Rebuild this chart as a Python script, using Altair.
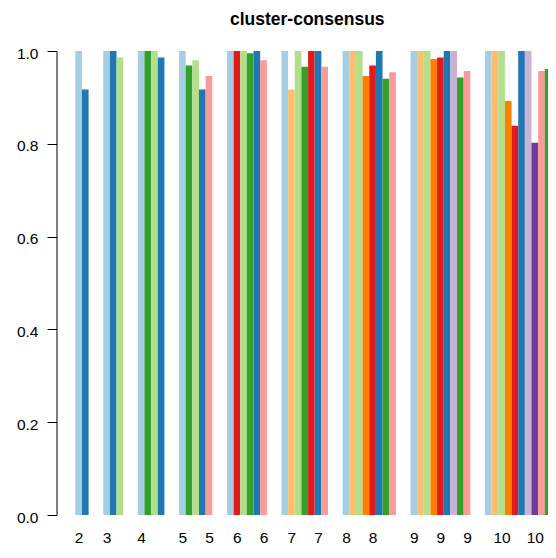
import altair as alt
import pandas as pd

# cluster counts (k) and, for each k, bar colours and cluster-consensus values
K = [2, 3, 4, 5, 6, 7, 8, 9, 10]

LB, DB, LG, G = "#A6CEE3", "#1F78B4", "#B2DF8A", "#33A02C"
PK, R, LO, O = "#FB9A99", "#E31A1C", "#FDBF6F", "#FF7F00"
LV, PU = "#CAB2D6", "#6A3D9A"

colors = [
    [LB, DB],
    [LB, DB, LG],
    [LB, G, LG, DB],
    [LB, G, LG, DB, PK],
    [LB, R, LG, G, DB, PK],
    [LB, LO, LG, G, R, DB, PK],
    [LB, LO, LG, O, R, DB, G, PK],
    [LB, LO, LG, O, R, DB, LV, G, PK],
    [LB, LO, LG, O, R, DB, LV, PU, PK, G],
]
values = [
    [1.0, 0.917],
    [1.0, 1.0, 0.986],
    [1.0, 1.0, 1.0, 0.986],
    [1.0, 0.969, 0.980, 0.917, 0.946],
    [1.0, 1.0, 1.0, 0.995, 1.0, 0.980],
    [1.0, 0.917, 1.0, 0.966, 1.0, 1.0, 0.966],
    [1.0, 1.0, 1.0, 0.946, 0.969, 1.0, 0.940, 0.954],
    [1.0, 1.0, 1.0, 0.983, 0.986, 1.0, 1.0, 0.943, 0.957],
    [1.0, 1.0, 1.0, 0.892, 0.839, 1.0, 1.0, 0.802, 0.957, 0.961],
]
# which bars (k, index within group) carry a visible x label
labelled = [(2, 0), (3, 0), (4, 0), (5, 0), (5, 4), (6, 1), (6, 5), (7, 1), (7, 5),
            (8, 0), (8, 4), (9, 0), (9, 4), (9, 8), (10, 2), (10, 7)]

GAP = 2.2  # space between groups, in bar widths

rows = []
tick_vals, tick_text = [], []
pos = 0.0
for k, cols, vals in zip(K, colors, values):
    for i, (c, v) in enumerate(zip(cols, vals)):
        rows.append({"k": k, "i": i, "x0": pos, "x1": pos + 1, "v": v, "c": c,
                     "bar": f"{k}-{i}"})
        if (k, i) in labelled:
            tick_vals.append(pos + 0.5)
            tick_text.append(str(k))
        pos += 1
    pos += GAP
df = pd.DataFrame(rows)

label_expr = ("[" + ",".join(f"'{t}'" for t in tick_text) + "][indexof(["
              + ",".join(repr(v) for v in tick_vals) + "], datum.value)]")

FONT = "Liberation Sans"

chart = alt.Chart(df).mark_bar(clip=True).encode(
    x=alt.X("x0:Q", scale=alt.Scale(domain=[-2.827, 71.08], nice=False, zero=False),
            axis=alt.Axis(values=tick_vals, labelExpr=label_expr, ticks=False, domain=False,
                          grid=False, title=None, labelFont=FONT, labelFontSize=15.5,
                          labelColor="black", labelBaseline="alphabetic", labelPadding=27,
                          labelFlush=False, labelOverlap=False)),
    x2="x1:Q",
    y=alt.Y("v:Q", scale=alt.Scale(domain=[0, 1], nice=False),
            axis=alt.Axis(values=[0, 0.2, 0.4, 0.6, 0.8, 1.0], format=".1f", grid=False,
                          title=None, tickSize=9.5, labelPadding=9, labelFont=FONT,
                          labelFontSize=15.5, labelColor="black", domainColor="black",
                          tickColor="black", labelOffset=2, labelFlush=False)),
    y2=alt.datum(0),
    color=alt.Color("c:N", scale=None),
    detail="bar:N",
).properties(
    width=491.5,
    height=464,
    padding={"left": 48.5, "top": 43, "right": 0, "bottom": 31},
    autosize=alt.AutoSizeParams(type="none"),
    background="white",
    title=alt.TitleParams("cluster-consensus", font=FONT, fontSize=17.5, fontWeight="bold",
                          anchor="middle", frame="group", baseline="alphabetic",
                          offset=4, dx=5, color="black"),
).configure_view(strokeWidth=0)

chart.save("out.html", embed_options={"renderer": "svg", "actions": False})
